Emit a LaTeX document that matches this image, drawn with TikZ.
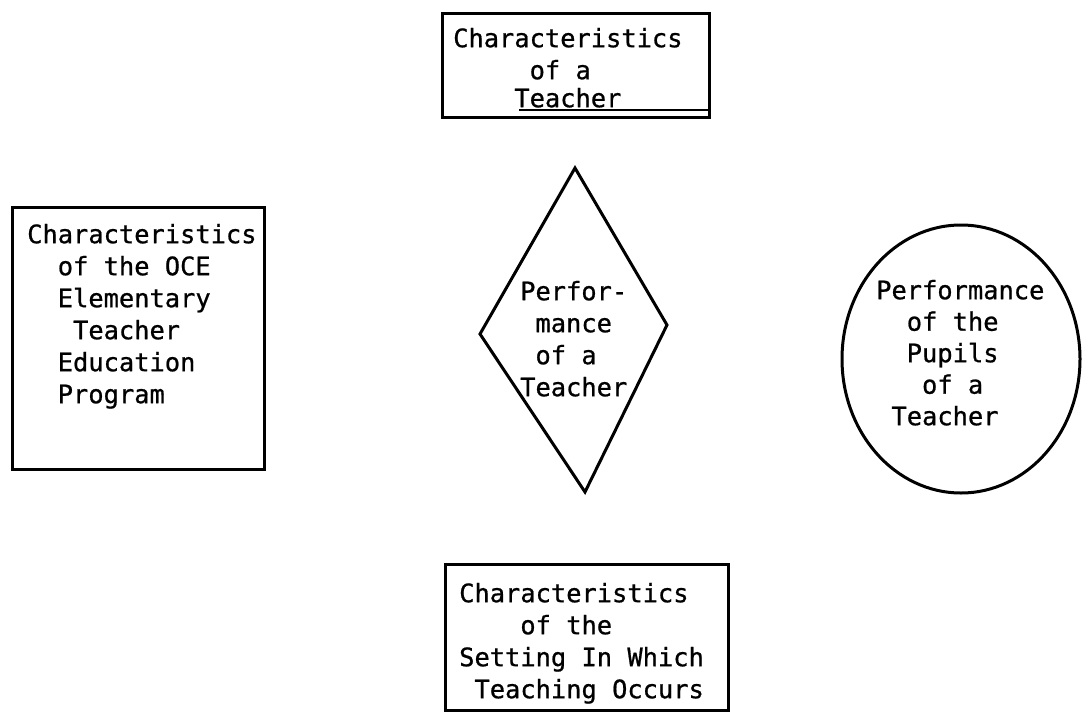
\documentclass[tikz,border=0pt]{standalone}
\usepackage{fontspec}
\newfontfamily\tw[FakeBold=0.8]{DejaVu Sans Mono}
\usetikzlibrary{shapes.geometric}
\newcommand\indt[1]{\phantom{#1}}
\tikzset{
  shapeline/.style={draw=black, line width=3pt, inner sep=0pt},
  typed/.style={anchor=north west, inner sep=0pt, align=left,
    font=\tw\fontsize{25.4}{32}\selectfont},
}
\newcommand\fl{\vrule height 24pt depth 0pt width 0pt}
\begin{document}
\begin{tikzpicture}[x=1pt,y=-1pt]
\useasboundingbox (0,0) rectangle (1082,712);
% shapes
\node[shapeline, minimum width=267pt, minimum height=104pt] (teacher) at (575.5,65) {};
\node[shapeline, minimum width=252pt, minimum height=262pt] (program) at (138,338) {};
\node[shapeline, minimum width=283pt, minimum height=146pt] (setting) at (586.5,637) {};
\node[shapeline, ellipse, minimum width=238pt, minimum height=268pt] (pupils) at (961,359) {};
\coordinate (dtop) at (575,168);
\coordinate (dright) at (667,325);
\coordinate (dbottom) at (585,492);
\coordinate (dleft) at (480,334);
\draw[line width=3pt, line join=miter] (dtop) -- (dright) -- (dbottom) -- (dleft) -- cycle;
% underline in top box
\coordinate (ulstart) at (519,110);
\coordinate (ulend) at (teacher.east |- ulstart);
\draw[line width=1.8pt] (ulstart) -- (ulend);
% texts
\node[typed] (teachertext) at (453,23) {\fl Characteristics\\ \indt{xxxxx}of a\\[-4pt] \indt{xxxx}Teacher};
\node[typed] (programtext) at (27,219) {\fl Characteristics\\ \indt{xx}of the OCE\\ \indt{xx}Elementary\\ \indt{xxx}Teacher\\ \indt{xx}Education\\ \indt{xx}Program};
\node[typed] (performtext) at (520,276) {\fl Perfor-\\ \indt{x}mance\\ \indt{x}of a\\ Teacher};
\node[typed, font=\tw\fontsize{25.4}{31.5}\selectfont] (pupilstext) at (876,275) {\fl Performance\\ \indt{xx}of the\\ \indt{xx}Pupils\\ \indt{xxx}of a\\ \indt{x}Teacher};
\node[typed] (settingtext) at (459,578) {\fl Characteristics\\ \indt{xxxx}of the\\ Setting In Which\\ \indt{x}Teaching Occurs};
\end{tikzpicture}
\end{document}
